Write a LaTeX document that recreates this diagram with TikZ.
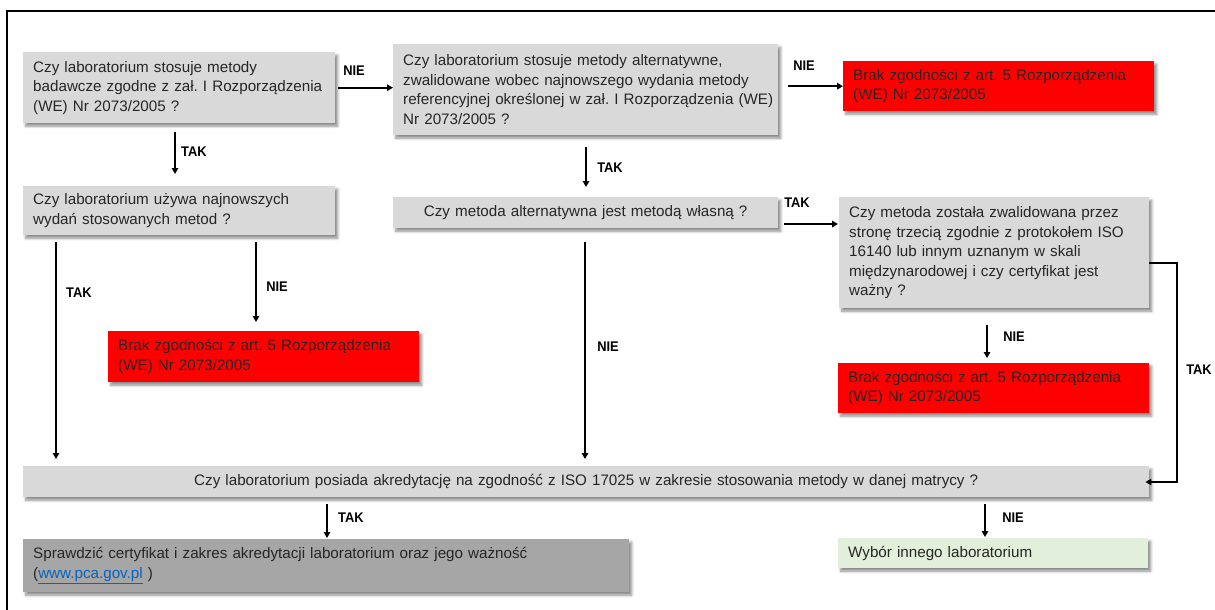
\documentclass[tikz,border=0pt]{standalone}
\usepackage{fontspec}
\setmainfont{Liberation Sans}
\newfontfamily\labelfont[FakeStretch=0.92]{Liberation Sans}
\usetikzlibrary{arrows.meta,shadows.blur}

\definecolor{boxgray}{HTML}{D9D9D9}
\definecolor{boxred}{HTML}{FF0000}
\definecolor{boxdark}{HTML}{A6A6A6}
\definecolor{boxgreen}{HTML}{E2EFDA}
\definecolor{ink}{HTML}{262626}
\definecolor{linkblue}{HTML}{0563C1}

\begin{document}
\frenchspacing
\begin{tikzpicture}[x=1pt,y=-1pt,
  box/.style={draw=none, anchor=north west, inner xsep=10pt, inner ysep=0pt,
    align=left, text=ink, font=\fontsize{15.2}{19.5}\selectfont,
    blur shadow={shadow xshift=2.5pt, shadow yshift=-3pt,
      shadow blur radius=2.5pt, shadow blur steps=6, shadow opacity=45}},
  question/.style={box, fill=boxgray},
  fail/.style={box, fill=boxred},
  check/.style={box, fill=boxdark},
  other/.style={box, fill=boxgreen},
  lbl/.style={font=\labelfont\fontsize{14}{16}\selectfont\bfseries, text=black, inner sep=0pt},
  conn/.style={draw=black, line width=1.8pt, -{Triangle[length=6pt,width=6.5pt]}},
  hconn/.style={conn, line width=2.4pt},
  flow/.style={draw=black, line width=1.8pt}
]
\useasboundingbox (0,0) rectangle (1215,610);

% outer frame
\draw[line width=2pt] (7,610) -- (7,11) -- (1215,11);

% decision boxes
\node[question, minimum width=312pt, minimum height=71pt, text width=292pt] (A) at (23,52)
  {Czy laboratorium stosuje metody\\badawcze zgodne z zał. I Rozporządzenia\\(WE) Nr 2073/2005 ?};
\node[question, minimum width=385pt, minimum height=91pt, text width=365pt] (B) at (393,44)
  {Czy laboratorium stosuje metody alternatywne,\\zwalidowane wobec najnowszego wydania metody\\\mbox{referencyjnej określonej w zał. I Rozporządzenia (WE)}\\Nr 2073/2005 ?};
\node[fail, minimum width=311pt, minimum height=50pt, text width=291pt] (R1) at (843,61)
  {Brak zgodności z art. 5 Rozporządzenia\\(WE) Nr 2073/2005};
\node[question, minimum width=312pt, minimum height=49pt, text width=292pt] (C) at (23,186)
  {Czy laboratorium używa najnowszych\\wydań stosowanych metod ?};
\node[fail, minimum width=311pt, minimum height=51pt, text width=291pt] (R2) at (108,331)
  {Brak zgodności z art. 5 Rozporządzenia\\(WE) Nr 2073/2005};
\node[question, minimum width=385pt, minimum height=31pt, text width=365pt, align=center] (D) at (393,197)
  {Czy metoda alternatywna jest metodą własną ?};
\node[question, minimum width=310pt, minimum height=111pt, text width=290pt] (E) at (839,197)
  {Czy metoda została zwalidowana przez\\stronę trzecią zgodnie z protokołem ISO\\16140 lub innym uznanym w skali\\międzynarodowej i czy certyfikat jest\\ważny ?};
\node[fail, minimum width=311pt, minimum height=50pt, text width=291pt] (R3) at (838,363)
  {Brak zgodności z art. 5 Rozporządzenia\\(WE) Nr 2073/2005};
\node[question, minimum width=1126pt, minimum height=31pt, text width=1106pt, align=center] (F) at (23,466)
  {Czy laboratorium posiada akredytację na zgodność z ISO 17025 w zakresie stosowania metody w danej matrycy ?};
\node[check, minimum width=606pt, minimum height=53pt, text width=586pt] (G) at (23,539)
  {Sprawdzić certyfikat i zakres akredytacji laboratorium oraz jego ważność\\({\color{linkblue}\underline{www.pca.gov.pl}} )};
\node[other, minimum width=310pt, minimum height=30pt, text width=290pt] (H) at (838,538)
  {Wybór innego laboratorium};

% connectors
\draw[hconn, shorten <=3pt] (A.east) -- (A.east -| B.west);
\draw[hconn, shorten <=10pt] (B.east |- R1.west) -- (R1.west);
\draw[conn, shorten <=9pt, shorten >=12pt] (A.south -| 175,0) -- (C.north -| 175,0);
\draw[conn, shorten <=7pt, shorten >=7pt] (C.south -| 56,0) -- (F.north -| 56,0);
\draw[conn, shorten <=7pt, shorten >=9pt] (C.south -| 256,0) -- (R2.north -| 256,0);
\draw[conn, shorten <=12pt, shorten >=10pt] (B.south -| 586,0) -- (D.north -| 586,0);
\draw[conn, shorten <=14pt, shorten >=7pt] (D.south -| 585,0) -- (F.north -| 585,0);
\draw[hconn, shorten <=6pt, shorten >=1pt] (D.east |- 0,224) -- (E.west |- 0,224);
\draw[conn, shorten <=17pt, shorten >=5pt] (E.south -| 987,0) -- (R3.north -| 987,0);
\draw[flow, -{Triangle[length=6pt,width=6.5pt]}, shorten >=-4pt]
  (E.east |- 0,263) -- (1177,263) -- (1177,482) -- (F.east |- 0,482);
\draw[conn, shorten <=7pt, shorten >=1pt] (F.south -| 327,0) -- (G.north -| 327,0);
\draw[conn, shorten <=7pt, shorten >=1pt] (F.south -| 985,0) -- (H.north -| 985,0);

% branch labels
\node[lbl] (nAB) at (354,71) {NIE};
\node[lbl] (nBR) at (804,66) {NIE};
\node[lbl] (tAC) at (194,152) {TAK};
\node[lbl] (tCF) at (79,293) {TAK};
\node[lbl] (nCR) at (277,287) {NIE};
\node[lbl] (tBD) at (610,168) {TAK};
\node[lbl] (nDF) at (608,347) {NIE};
\node[lbl] (tDE) at (797,203) {TAK};
\node[lbl] (nER) at (1014,337) {NIE};
\node[lbl] (tEF) at (1199,370) {TAK};
\node[lbl] (tFG) at (351,518) {TAK};
\node[lbl] (nFH) at (1013,518) {NIE};
\end{tikzpicture}
\end{document}
